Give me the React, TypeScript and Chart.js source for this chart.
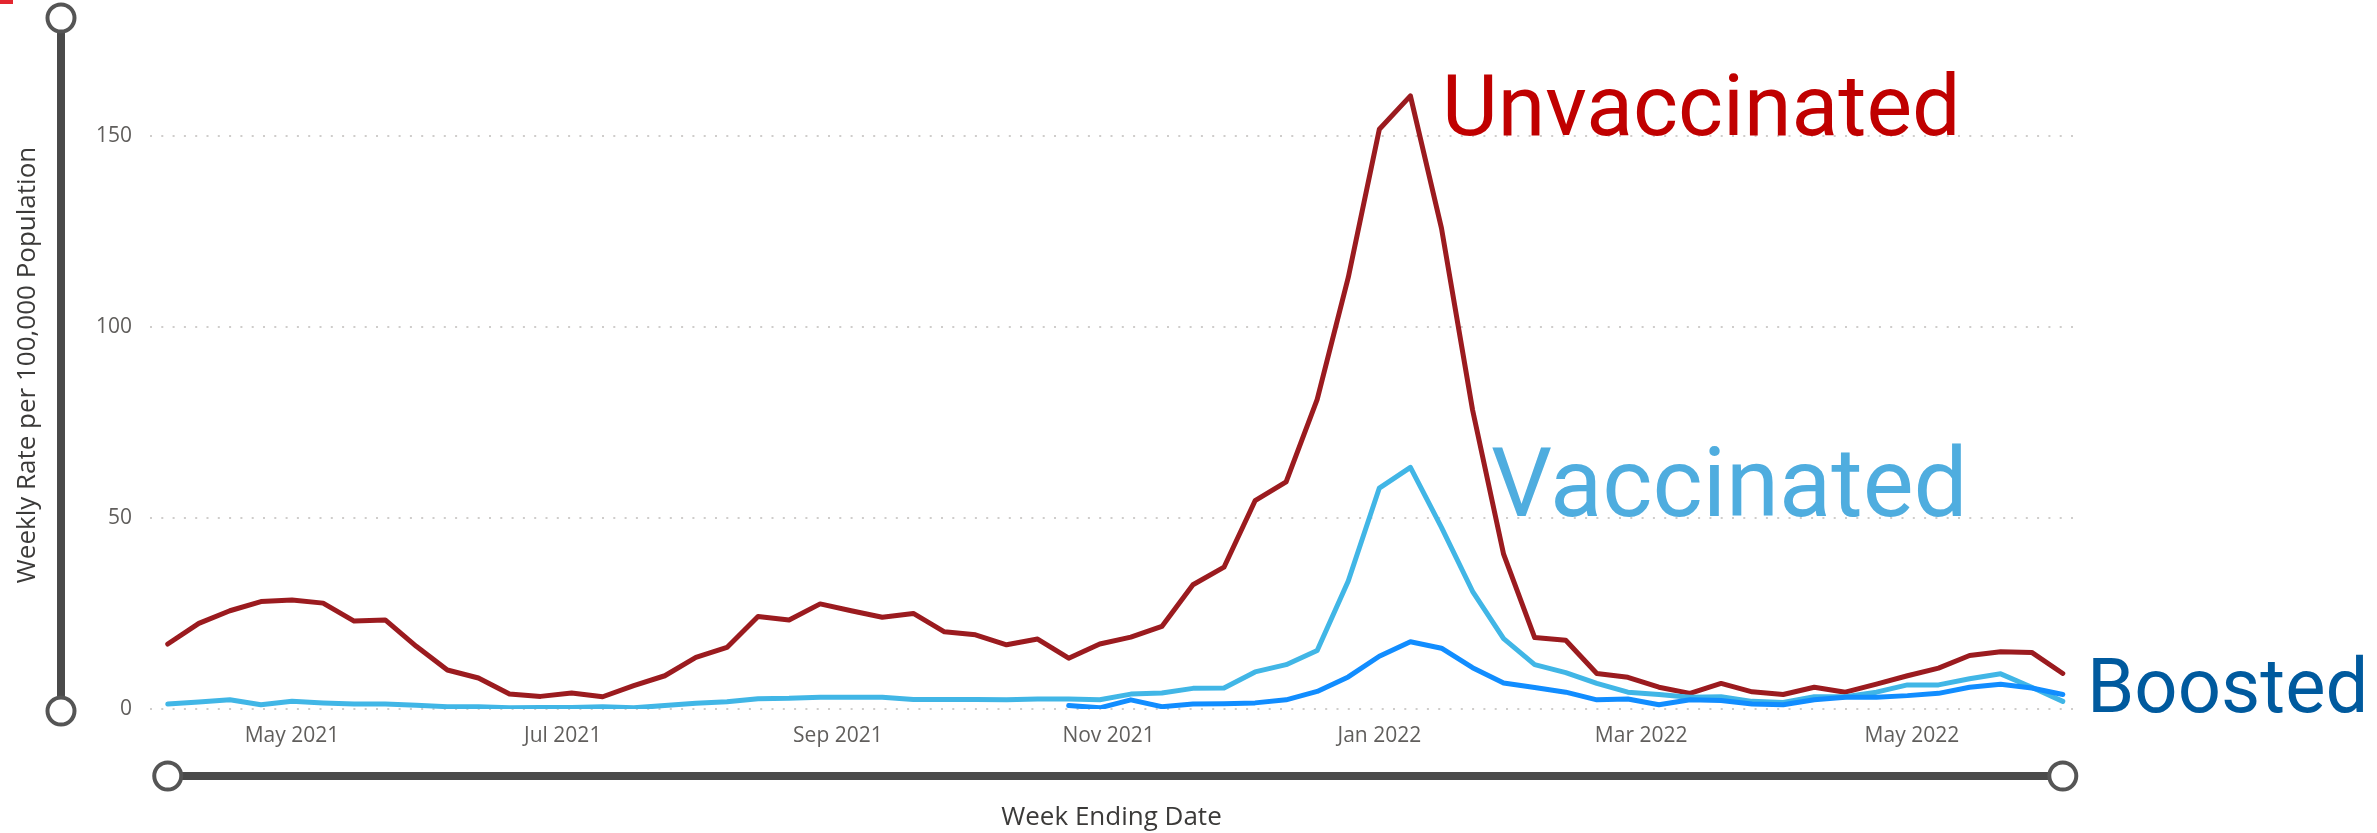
import React, { useEffect, useRef } from "react";
import { Chart, registerables } from "chart.js";

Chart.register(...registerables);

// ---- data ----
const weekEnding = [
  "2021-04-03", "2021-04-10", "2021-04-17", "2021-04-24",
  "2021-05-01", "2021-05-08", "2021-05-15", "2021-05-22", "2021-05-29",
  "2021-06-05", "2021-06-12", "2021-06-19", "2021-06-26",
  "2021-07-03", "2021-07-10", "2021-07-17", "2021-07-24", "2021-07-31",
  "2021-08-07", "2021-08-14", "2021-08-21", "2021-08-28",
  "2021-09-04", "2021-09-11", "2021-09-18", "2021-09-25",
  "2021-10-02", "2021-10-09", "2021-10-16", "2021-10-23", "2021-10-30",
  "2021-11-06", "2021-11-13", "2021-11-20", "2021-11-27",
  "2021-12-04", "2021-12-11", "2021-12-18", "2021-12-25",
  "2022-01-01", "2022-01-08", "2022-01-15", "2022-01-22", "2022-01-29",
  "2022-02-05", "2022-02-12", "2022-02-19", "2022-02-26",
  "2022-03-05", "2022-03-12", "2022-03-19", "2022-03-26",
  "2022-04-02", "2022-04-09", "2022-04-16", "2022-04-23", "2022-04-30",
  "2022-05-07", "2022-05-14", "2022-05-21", "2022-05-28",
  "2022-06-04",
];

const unvaccinated = [
  17.0, 22.4, 25.7, 28.1, 28.5, 27.7, 23.0, 23.3, 16.4, 10.2,
  8.1, 3.9, 3.3, 4.2, 3.2, 6.1, 8.7, 13.5, 16.1, 24.2,
  23.3, 27.5, 25.7, 24.0, 25.0, 20.2, 19.4, 16.8, 18.3, 13.3,
  17.0, 18.8, 21.6, 32.5, 37.1, 54.5, 59.4, 81.0, 112.9, 151.7,
  160.4, 125.8, 78.3, 40.5, 18.7, 18.0, 9.3, 8.3, 5.7, 4.1,
  6.7, 4.5, 3.8, 5.7, 4.4, 6.5, 8.7, 10.7, 14.0, 15.0,
  14.8, 9.3,
];

const vaccinated = [
  1.3, 1.8, 2.4, 1.1, 2.0, 1.6, 1.3, 1.3, 1.0, 0.6,
  0.6, 0.3, 0.4, 0.4, 0.6, 0.3, 0.9, 1.5, 1.9, 2.7,
  2.8, 3.1, 3.1, 3.1, 2.5, 2.5, 2.5, 2.4, 2.6, 2.6,
  2.4, 3.9, 4.2, 5.4, 5.5, 9.7, 11.6, 15.3, 33.5, 57.8,
  63.2, 47.5, 30.8, 18.4, 11.6, 9.5, 6.7, 4.4, 3.8, 3.1,
  3.2, 2.0, 1.7, 3.2, 3.2, 4.4, 6.3, 6.3, 7.9, 9.2,
  5.7, 2.0,
];

const boosted = [
  null, null, null, null, null, null, null, null, null, null,
  null, null, null, null, null, null, null, null, null, null,
  null, null, null, null, null, null, null, null, null, 0.9,
  0.3, 2.4, 0.6, 1.3, 1.4, 1.6, 2.4, 4.6, 8.4, 13.8,
  17.6, 15.9, 10.8, 6.8, 5.6, 4.4, 2.4, 2.6, 1.1, 2.4,
  2.2, 1.3, 1.1, 2.4, 3.1, 3.1, 3.5, 4.1, 5.7, 6.5,
  5.5, 3.8,
];

const seriesNames = ["Unvaccinated", "Vaccinated", "Boosted"];

const xTickDates = ["2021-05-01", "2021-07-01", "2021-09-01", "2021-11-01", "2022-01-01", "2022-03-01", "2022-05-01"];
const xTickLabels = ["May 2021", "Jul 2021", "Sep 2021", "Nov 2021", "Jan 2022", "Mar 2022", "May 2022"];
const yTickValues = [0, 50, 100, 150];

const xTitle = "Week Ending Date";
const yTitle = "Weekly Rate per 100,000 Population";

// ---- helpers ----
const toDay = (s: string) => Date.parse(s + "T00:00:00Z") / 86400000;
const days = weekEnding.map(toDay);
const toPoints = (vals: (number | null)[]) => vals.map((v, i) => ({ x: days[i], y: v }));

const TICK_FONT = "'Open Sans', sans-serif";
const LABEL_FONT = "Roboto, sans-serif";

function drawSlider(ctx: CanvasRenderingContext2D, x0: number, y0: number, x1: number, y1: number) {
  ctx.save();
  ctx.strokeStyle = "#4a4a4a";
  ctx.lineWidth = 8;
  ctx.beginPath();
  ctx.moveTo(x0, y0);
  ctx.lineTo(x1, y1);
  ctx.stroke();
  for (const [cx, cy] of [[x0, y0], [x1, y1]]) {
    ctx.beginPath();
    ctx.arc(cx, cy, 13.5, 0, Math.PI * 2);
    ctx.fillStyle = "#ffffff";
    ctx.fill();
    ctx.lineWidth = 4;
    ctx.strokeStyle = "#555555";
    ctx.stroke();
  }
  ctx.restore();
}

const decorPlugin = {
  id: "decor",
  afterDraw(chart: any) {
    const ctx: CanvasRenderingContext2D = chart.ctx;
    const xs = chart.scales.x;
    const ys = chart.scales.y;
    ctx.save();
    // small red mark in the corner
    ctx.fillStyle = "#E3262F";
    ctx.fillRect(0, 0, 13, 4);
    // sliders
    drawSlider(ctx, 61, 18, 61, ys.getPixelForValue(0) + 2);
    const xa = xs.getPixelForValue(days[0]);
    const xb = xs.getPixelForValue(days[days.length - 1]);
    drawSlider(ctx, xa, 776, xb, 776);
    // series labels
    ctx.textBaseline = "alphabetic";
    ctx.textAlign = "left";
    ctx.fillStyle = "#C00000";
    ctx.font = `400 86px ${LABEL_FONT}`;
    ctx.fillText(seriesNames[0], 1442, 135);
    ctx.fillStyle = "#4FADDF";
    ctx.font = `400 96px ${LABEL_FONT}`;
    ctx.fillText(seriesNames[1], 1491, 516);
    ctx.fillStyle = "#005A9E";
    ctx.font = `400 76px ${LABEL_FONT}`;
    ctx.fillText(seriesNames[2], 2087, 712);
    ctx.restore();
  },
};

export default function App() {
  const ref = useRef<HTMLCanvasElement | null>(null);

  useEffect(() => {
    document.body.style.margin = "0";
    const canvas = ref.current;
    if (!canvas) return;
    const chart = new Chart(canvas, {
      type: "line",
      data: {
        datasets: [
          {
            label: seriesNames[0],
            data: toPoints(unvaccinated),
            borderColor: "#9B1B1F",
            borderWidth: 5,
            order: 2,
          },
          {
            label: seriesNames[1],
            data: toPoints(vaccinated),
            borderColor: "#41B6E6",
            borderWidth: 5,
            order: 1,
          },
          {
            label: seriesNames[2],
            data: toPoints(boosted),
            borderColor: "#118DFF",
            borderWidth: 5,
            order: 0,
          },
        ] as any,
      },
      options: {
        animation: false,
        responsive: false,
        devicePixelRatio: 1,
        parsing: true,
        elements: {
          point: { radius: 0, hoverRadius: 0 },
          line: { tension: 0, borderJoinStyle: "round", borderCapStyle: "round", fill: false },
        },
        layout: { padding: { left: 0, right: 304, top: 21, bottom: 0 } },
        plugins: {
          legend: { display: false },
          tooltip: { enabled: false },
        },
        scales: {
          x: {
            type: "linear",
            min: days[0] - 4,
            max: days[days.length - 1] + 2.3,
            grid: { display: false, drawTicks: false },
            border: { display: false },
            afterBuildTicks: (scale: any) => {
              scale.ticks = xTickDates.map((d) => ({ value: toDay(d) }));
            },
            afterFit: (scale: any) => {
              scale.height = 124;
            },
            ticks: {
              autoSkip: false,
              maxRotation: 0,
              padding: 14,
              color: "#605E5C",
              font: { family: TICK_FONT, size: 21 },
              callback: (_v: any, i: number) => xTickLabels[i],
            },
            title: {
              display: true,
              text: xTitle,
              color: "#3B3A39",
              font: { family: TICK_FONT, size: 26 },
              padding: { top: 0, bottom: 0 },
            },
          },
          y: {
            type: "linear",
            min: 0,
            max: 180,
            grid: {
              color: "#CFCDCB",
              lineWidth: 2,
              drawTicks: true,
              tickLength: 18,
              tickColor: "rgba(0,0,0,0)",
            },
            border: { display: false, dash: [2, 9.3] },
            afterBuildTicks: (scale: any) => {
              scale.ticks = yTickValues.map((v) => ({ value: v }));
            },
            afterFit: (scale: any) => {
              scale.width = 150;
            },
            ticks: {
              padding: 0,
              color: "#605E5C",
              font: { family: TICK_FONT, size: 21 },
            },
            title: {
              display: true,
              text: yTitle,
              color: "#3B3A39",
              font: { family: TICK_FONT, size: 26 },
              padding: { top: 12, bottom: 0 },
            },
          },
        },
      } as any,
      plugins: [decorPlugin],
    });
    return () => chart.destroy();
  }, []);

  return (
    <div style={{ position: "absolute", left: 0, top: 0, width: 2377, height: 833, background: "#fff" }}>
      <canvas ref={ref} width={2377} height={833} style={{ display: "block", width: 2377, height: 833 }} />
    </div>
  );
}
